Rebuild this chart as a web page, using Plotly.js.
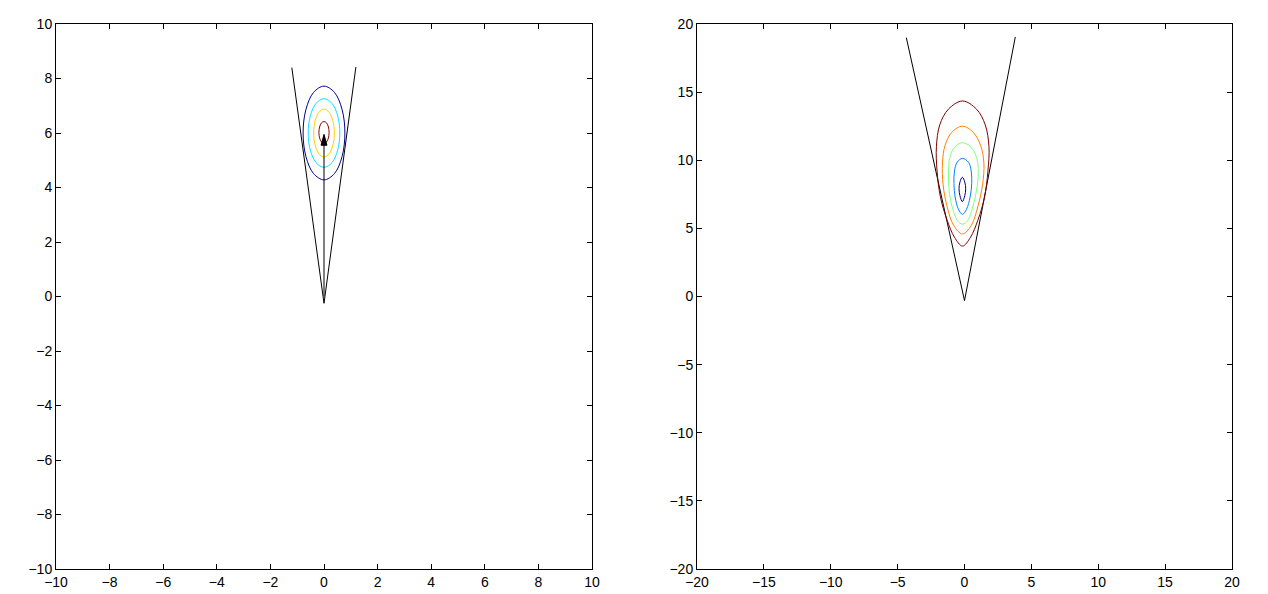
<!DOCTYPE html>
<html><head><meta charset="utf-8">
<script src="https://cdn.plot.ly/plotly-3.0.1.min.js"></script>
<style>html,body{margin:0;padding:0;background:#fff}#chart{width:1268px;height:594px}</style>
</head><body><div id="chart"></div>
<script>
// ---------- Left panel data ----------
const leftConeX = [-1.2, 0.0, 1.19];
const leftConeY = [8.4, -0.25, 8.42];
const leftArrowX = [0, 0];
const leftArrowY = [0, 5.6];
const leftHeadX = [-0.11, 0, 0.11, -0.11];
const leftHeadY = [5.55, 5.95, 5.55, 5.55];
// contours (outer -> inner)
const leftNavyX = [0, 0.39, 0.675, 0.78, 0.675, 0.39, 0, -0.39, -0.675, -0.78, -0.675, -0.39, 0];
const leftNavyY = [7.72, 7.49, 6.86, 6.0, 5.14, 4.51, 4.28, 4.51, 5.14, 6.0, 6.86, 7.49, 7.72];
const leftCyanX = [0, 0.295, 0.51, 0.59, 0.51, 0.295, 0, -0.295, -0.51, -0.59, -0.51, -0.295, 0];
const leftCyanY = [7.26, 7.09, 6.63, 6.0, 5.37, 4.91, 4.74, 4.91, 5.37, 6.0, 6.63, 7.09, 7.26];
const leftYellowX = [0, 0.19, 0.333, 0.385, 0.333, 0.19, 0, -0.19, -0.333, -0.385, -0.333, -0.19, 0];
const leftYellowY = [6.88, 6.76, 6.44, 6.0, 5.56, 5.24, 5.12, 5.24, 5.56, 6.0, 6.44, 6.76, 6.88];
const leftRedX = [0, 0.095, 0.165, 0.19, 0.165, 0.095, 0, -0.095, -0.165, -0.19, -0.165, -0.095, 0];
const leftRedY = [6.42, 6.37, 6.22, 6.02, 5.82, 5.67, 5.62, 5.67, 5.82, 6.02, 6.22, 6.37, 6.42];
const leftXTicks = [-10, -8, -6, -4, -2, 0, 2, 4, 6, 8, 10];
const leftYTicks = [-10, -8, -6, -4, -2, 0, 2, 4, 6, 8, 10];

// ---------- Right panel data ----------
const rightConeX = [-4.35, 0.0, 3.8];
const rightConeY = [19.0, -0.3, 19.05];
// contours (outer -> inner)
const rightDarkRedX = [-0.15, 0.9, 1.55, 1.83, 1.75, 1.5, 1.0, 0.45, -0.15, -0.75, -1.3, -1.8, -2.05, -2.1, -1.85, -1.2, -0.15];
const rightDarkRedY = [14.35, 13.75, 12.6, 11.0, 9.2, 7.3, 5.6, 4.35, 3.7, 4.35, 5.6, 7.3, 9.2, 11.0, 12.6, 13.75, 14.35];
const rightOrangeX = [-0.15, 0.65, 1.2, 1.45, 1.35, 1.0, 0.5, -0.15, -0.8, -1.3, -1.6, -1.65, -1.45, -0.95, -0.15];
const rightOrangeY = [12.5, 12.05, 11.1, 9.8, 8.2, 6.6, 5.2, 4.59, 5.2, 6.6, 8.2, 9.8, 11.1, 12.05, 12.5];
const rightGreenX = [-0.15, 0.5, 0.9, 1.03, 0.9, 0.6, 0.25, -0.15, -0.55, -0.9, -1.15, -1.2, -1.1, -0.75, -0.15];
const rightGreenY = [11.29, 10.95, 10.2, 9.1, 7.8, 6.5, 5.6, 5.3, 5.6, 6.5, 7.8, 9.1, 10.2, 10.95, 11.29];
const rightBlueX = [-0.15, 0.3, 0.5, 0.54, 0.42, 0.15, -0.15, -0.45, -0.7, -0.79, -0.75, -0.55, -0.15];
const rightBlueY = [10.14, 9.85, 9.2, 8.3, 7.3, 6.4, 6.03, 6.4, 7.3, 8.3, 9.2, 9.85, 10.14];
const rightNavyX = [-0.16, 0.02, 0.09, 0.02, -0.16, -0.34, -0.41, -0.34, -0.16];
const rightNavyY = [8.75, 8.4, 7.9, 7.4, 6.96, 7.4, 7.9, 8.4, 8.75];
const rightXTicks = [-20, -15, -10, -5, 0, 5, 10, 15, 20];
const rightYTicks = [-20, -15, -10, -5, 0, 5, 10, 15, 20];

function line(x, y, color, xa, ya, spline) {
  return {type: 'scatter', mode: 'lines', x: x, y: y, xaxis: xa, yaxis: ya,
    line: {color: color, width: 1, shape: spline ? 'spline' : 'linear', smoothing: 1},
    hoverinfo: 'skip', showlegend: false};
}

const traces = [
  line(leftConeX, leftConeY, '#000000', 'x', 'y', false),
  line(leftNavyX, leftNavyY, '#00008F', 'x', 'y', true),
  line(leftCyanX, leftCyanY, '#10DFFF', 'x', 'y', true),
  line(leftYellowX, leftYellowY, '#FFD000', 'x', 'y', true),
  line(leftRedX, leftRedY, '#8F0000', 'x', 'y', true),
  line(leftArrowX, leftArrowY, '#000000', 'x', 'y', false),
  {type: 'scatter', mode: 'lines', x: leftHeadX, y: leftHeadY, xaxis: 'x', yaxis: 'y',
   fill: 'toself', fillcolor: '#000000', line: {color: '#000000', width: 1},
   hoverinfo: 'skip', showlegend: false},
  line(rightConeX, rightConeY, '#000000', 'x2', 'y2', false),
  line(rightDarkRedX, rightDarkRedY, '#800000', 'x2', 'y2', true),
  line(rightOrangeX, rightOrangeY, '#FF8000', 'x2', 'y2', true),
  line(rightGreenX, rightGreenY, '#80FF80', 'x2', 'y2', true),
  line(rightBlueX, rightBlueY, '#0080FF', 'x2', 'y2', true),
  line(rightNavyX, rightNavyY, '#00008F', 'x2', 'y2', true)
];

const tickFont = {family: 'Liberation Sans, Arial, Helvetica, sans-serif', size: 14, color: '#000'};
function axis(range, vals, domain, anchor) {
  return {range: range, tickvals: vals, domain: domain, anchor: anchor,
    showgrid: false, zeroline: false, showline: true, linecolor: '#000', linewidth: 1,
    mirror: 'ticks', ticks: 'inside', ticklen: 5, tickcolor: '#000', tickwidth: 1,
    tickfont: tickFont, fixedrange: true};
}

const layout = {
  width: 1268, height: 594,
  margin: {l: 0, r: 0, t: 0, b: 0},
  paper_bgcolor: '#fff', plot_bgcolor: '#fff',
  showlegend: false,
  xaxis: axis([-10, 10], leftXTicks, [56/1268, 592/1268], 'y'),
  yaxis: axis([-10, 10], leftYTicks, [1 - 569/594, 1 - 24/594], 'x'),
  xaxis2: axis([-20, 20], rightXTicks, [697/1268, 1232/1268], 'y2'),
  yaxis2: axis([-20, 20], rightYTicks, [1 - 569/594, 1 - 24/594], 'x2')
};

Plotly.newPlot('chart', traces, layout, {displayModeBar: false, staticPlot: true});
</script>
</body></html>
